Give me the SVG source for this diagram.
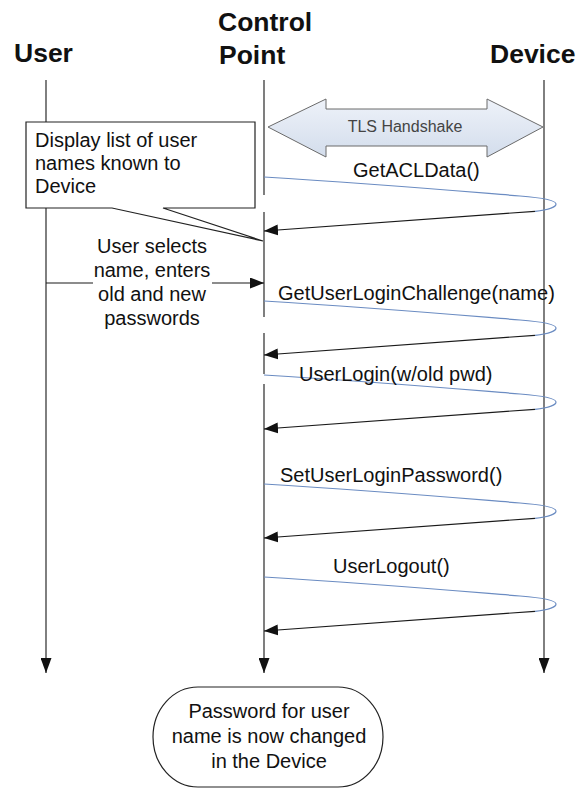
<svg xmlns="http://www.w3.org/2000/svg" width="579" height="790" viewBox="0 0 579 790">
  <style>
    .head { font-family: "Liberation Sans", Arial, sans-serif; font-size: 26.5px; font-weight: bold; fill: #111; }
    .lbl { font-family: "Liberation Sans", Arial, sans-serif; font-size: 20px; fill: #111; }
    .lbl-c { font-family: "Liberation Sans", Arial, sans-serif; font-size: 20px; fill: #111; text-anchor: middle; }
    .tls { font-family: "Liberation Sans", Arial, sans-serif; font-size: 16px; fill: #444; text-anchor: middle; }
    .life { fill: none; stroke: #2a2a2a; stroke-width: 1.2; marker-end: url(#down); }
    .req { fill: none; stroke: #6b8cc2; stroke-width: 1.2; }
    .resp { fill: none; stroke: #1a1a1a; stroke-width: 1.2; marker-end: url(#head); }
    .box { fill: #fff; stroke: #222; stroke-width: 1.2; }
  </style>
  <defs>
    <marker id="head" viewBox="0 0 14 11" refX="14" refY="5.5" markerWidth="14" markerHeight="11" markerUnits="userSpaceOnUse" orient="auto">
      <path d="M0,0 L14,5.5 L0,11 z" fill="#111"/>
    </marker>
    <marker id="down" viewBox="0 0 15 11" refX="15" refY="5.5" markerWidth="15" markerHeight="11" markerUnits="userSpaceOnUse" orient="auto">
      <path d="M0,0 L15,5.5 L0,11 z" fill="#111"/>
    </marker>
    <linearGradient id="tlsFill" x1="0" y1="0" x2="0" y2="1">
      <stop offset="0" stop-color="#eef2f9"/>
      <stop offset="1" stop-color="#d3ddec"/>
    </linearGradient>
  </defs>

  <!-- Participants -->
  <g id="user">
    <text class="head" x="14" y="62">User</text>
    <path class="life" d="M46,80 V673"/>
  </g>
  <g id="control-point">
    <text class="head" x="218" y="31">Control</text>
    <text class="head" x="219" y="64">Point</text>
    <path class="life" d="M264,80 V195 M264,212 V317 M264,333 V374 M264,384 V673"/>
  </g>
  <g id="device">
    <text class="head" x="490" y="63">Device</text>
    <path class="life" d="M544,80 V673"/>
  </g>

  <!-- Secure channel setup -->
  <g id="tls-handshake">
    <polygon points="268,127 326,99 326,109 487,109 487,99 543,127 487,157 487,146 326,146 326,157" fill="url(#tlsFill)" stroke="#6a6a6a" stroke-width="1"/>
    <text class="tls" x="405" y="132">TLS Handshake</text>
  </g>

  <!-- Note shown to the user -->
  <g id="note-display-list">
    <path class="box" d="M26,122 H255 V208 H163 L263,241 L112,208 H26 Z"/>
    <text class="lbl" x="35" y="147">Display list of user</text>
    <text class="lbl" x="35" y="170">names known to</text>
    <text class="lbl" x="35" y="193">Device</text>
  </g>

  <!-- Messages -->
  <g id="connectors">
    <g id="msg-user-input">
      <path class="resp" d="M46,283 H93 M212,283 H264"/>
      <text class="lbl-c" x="152" y="253">User selects</text>
      <text class="lbl-c" x="152" y="277">name, enters</text>
      <text class="lbl-c" x="152" y="301">old and new</text>
      <text class="lbl-c" x="152" y="325">passwords</text>
    </g>

    <g id="msg-get-acl" transform="translate(0,177)">
      <path class="req" d="M264,0 C380,7 470,15 520,19 C545,21 556,24 556,27 C556,30 548,33 535,34.3"/>
      <path class="resp" d="M535,34.3 L264,54"/>
    </g>
    <text class="lbl" x="353" y="177">GetACLData()</text>

    <g id="msg-challenge" transform="translate(0,301)">
      <path class="req" d="M264,0 C380,7 470,15 520,19 C545,21 556,24 556,27 C556,30 548,33 535,34.3"/>
      <path class="resp" d="M535,34.3 L264,54"/>
    </g>
    <text class="lbl" x="278" y="300">GetUserLoginChallenge(name)</text>

    <g id="msg-login" transform="translate(0,375)">
      <path class="req" d="M264,0 C380,7 470,15 520,19 C545,21 556,24 556,27 C556,30 548,33 535,34.3"/>
      <path class="resp" d="M535,34.3 L264,54"/>
    </g>
    <text class="lbl" x="299" y="381">UserLogin(w/old pwd)</text>

    <g id="msg-set-password" transform="translate(0,484)">
      <path class="req" d="M264,0 C380,7 470,15 520,19 C545,21 556,24 556,27 C556,30 548,33 535,34.3"/>
      <path class="resp" d="M535,34.3 L264,54"/>
    </g>
    <text class="lbl" x="280" y="482">SetUserLoginPassword()</text>

    <g id="msg-logout" transform="translate(0,577)">
      <path class="req" d="M264,0 C380,7 470,15 520,19 C545,21 556,24 556,27 C556,30 548,33 535,34.3"/>
      <path class="resp" d="M535,34.3 L264,54"/>
    </g>
    <text class="lbl" x="333" y="573">UserLogout()</text>
  </g>

  <!-- Outcome -->
  <g id="result">
    <rect class="box" x="153" y="687" width="230" height="100" rx="45" ry="50" stroke="#444"/>
    <text class="lbl-c" x="269" y="718">Password for user</text>
    <text class="lbl-c" x="269" y="743">name is now changed</text>
    <text class="lbl-c" x="269" y="768">in the Device</text>
  </g>
</svg>
